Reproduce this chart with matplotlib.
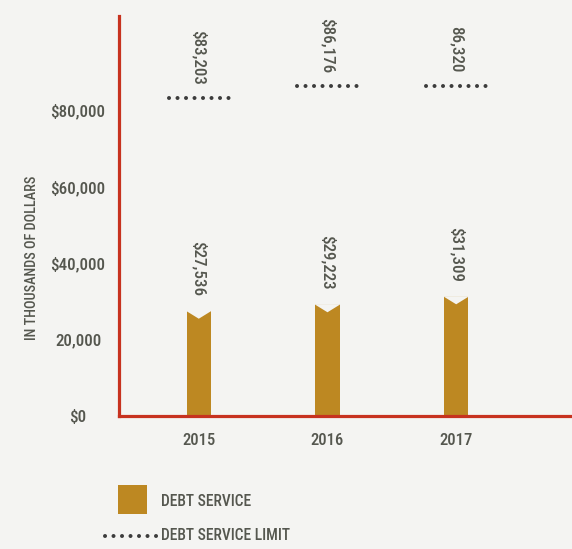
import os
import matplotlib
matplotlib.use('Agg')
import matplotlib.pyplot as plt
from matplotlib import font_manager as fm
from matplotlib.patches import Rectangle
from matplotlib.lines import Line2D

years = ['2015', '2016', '2017']
debt_service = [27536, 29223, 31309]
debt_limit = [83203, 86176, 86320]
service_labels = ['$27,536', '$29,223', '$31,309']
limit_labels = ['$83,203', '$86,176', '86,320']
ytick_vals = [0, 20000, 40000, 60000, 80000]
ytick_labels = ['$0', '20,000', '$40,000', '$60,000', '$80,000']

BG = '#f4f4f2'
GOLD = '#bd8822'
RED = '#c7321f'
TEXT = '#55574f'
DOT = '#3c3c3c'


def pick_font():
    files = [f.fname for f in fm.fontManager.ttflist]
    prefs = ['NotoSans-ExtraCondensedMedium.', 'NotoSans-ExtraCondensed.',
             'RobotoCondensed-Medium.', 'RobotoCondensed-Regular.',
             'LiberationSansNarrow-Regular.', 'NotoSans-CondensedMedium.',
             'NotoSans-Condensed.', 'DejaVuSansCondensed.']
    for p in prefs:
        for f in files:
            if os.path.basename(f).startswith(p):
                return f
    return None


FONT_FILE = pick_font()
if FONT_FILE:
    BASE = fm.FontProperties(fname=FONT_FILE)
else:
    BASE = fm.FontProperties(family='DejaVu Sans', stretch='condensed')


def fp(size):
    p = BASE.copy()
    p.set_size(size)
    return p


W, H = 572, 549
fig = plt.figure(figsize=(W / 100, H / 100), dpi=100, facecolor=BG)
renderer = fig.canvas.get_renderer()


def fit(text, target_w, target_cap, k=0.7):
    t = fig.text(0, 0, text, fontproperties=fp(10))
    w = t.get_window_extent(renderer).width
    t.remove()
    s_w = 10 * target_w / w
    s_h = target_cap / 0.71 * 0.72
    return s_w ** k * s_h ** (1 - k)


s_tick = fit('$80,000', 52, 14)
s_val = fit('$83,203', 50, 15)
s_year = fit('2015', 26, 15, 0.5)
s_ylab = fit('IN THOUSANDS OF DOLLARS', 151, 14, 0.8)
s_leg = fit('DEBT SERVICE LIMIT', 118, 16, 0.8)

ax = fig.add_axes([119 / W, 1 - 416 / H, 1 - 119 / W, 400 / H])
ax.set_facecolor(BG)

x = list(range(len(years)))
bw = 0.187
notch = 2100
ax.bar(x, debt_service, width=bw, color=GOLD, zorder=2, linewidth=0)
for xi, v in zip(x, debt_service):
    ax.fill([xi - bw / 2 - 0.01, xi, xi + bw / 2 + 0.01], [v + 50, v - notch, v + 50],
            color=BG, zorder=3, lw=0)

for xi, v in zip(x, debt_limit):
    ax.plot([xi - 0.235, xi + 0.235], [v, v], color=DOT, lw=2.9,
            linestyle=(0, (0.01, 2.1)), dash_capstyle='round', zorder=3)

for xi, v, t in zip(x, debt_service, service_labels):
    ax.annotate(t, xy=(xi, v), xytext=(0, 10.5), textcoords='offset points',
                rotation=-90, ha='center', va='bottom', fontproperties=fp(s_val), color=TEXT)
for xi, v, t in zip(x, debt_limit, limit_labels):
    ax.annotate(t, xy=(xi, v), xytext=(0, 9.5), textcoords='offset points',
                rotation=-90, ha='center', va='bottom', fontproperties=fp(s_val), color=TEXT)

ax.set_xlim(-0.62, 2.90)
ax.set_ylim(0, 104600)

for s in ['top', 'right']:
    ax.spines[s].set_visible(False)
for s in ['left', 'bottom']:
    ax.spines[s].set_color(RED)
    ax.spines[s].set_linewidth(2.3)
    ax.spines[s].set_zorder(4)

ax.set_yticks(ytick_vals, ytick_labels)
ax.tick_params(axis='y', length=0, pad=29.5, labelcolor=TEXT)
for lab in ax.get_yticklabels():
    lab.set_fontproperties(fp(s_tick))
    lab.set_ha('center')
ax.set_xticks(x, years)
ax.tick_params(axis='x', length=0, pad=12, labelcolor=TEXT)
for lab in ax.get_xticklabels():
    lab.set_fontproperties(fp(s_year))

fig.text(32 / W, 1 - 258 / H, 'IN THOUSANDS OF DOLLARS', rotation=90,
         ha='center', va='center', fontproperties=fp(s_ylab), color=TEXT)

fig.patches.append(Rectangle((118 / W, 1 - 514 / H), 29 / W, 29 / H,
                             transform=fig.transFigure, color=GOLD, lw=0))
fig.text(161 / W, 1 - 501 / H, 'DEBT SERVICE', ha='left', va='center',
         fontproperties=fp(s_leg), color=TEXT)
fig.lines.append(Line2D([105 / W, 157 / W], [1 - 536 / H] * 2, transform=fig.transFigure,
                        color=DOT, lw=2.9, linestyle=(0, (0.01, 2.1)),
                        dash_capstyle='round'))
fig.text(161 / W, 1 - 536 / H, 'DEBT SERVICE LIMIT', ha='left', va='center',
         fontproperties=fp(s_leg), color=TEXT)

fig.savefig('out.png', dpi=100, facecolor=BG)
